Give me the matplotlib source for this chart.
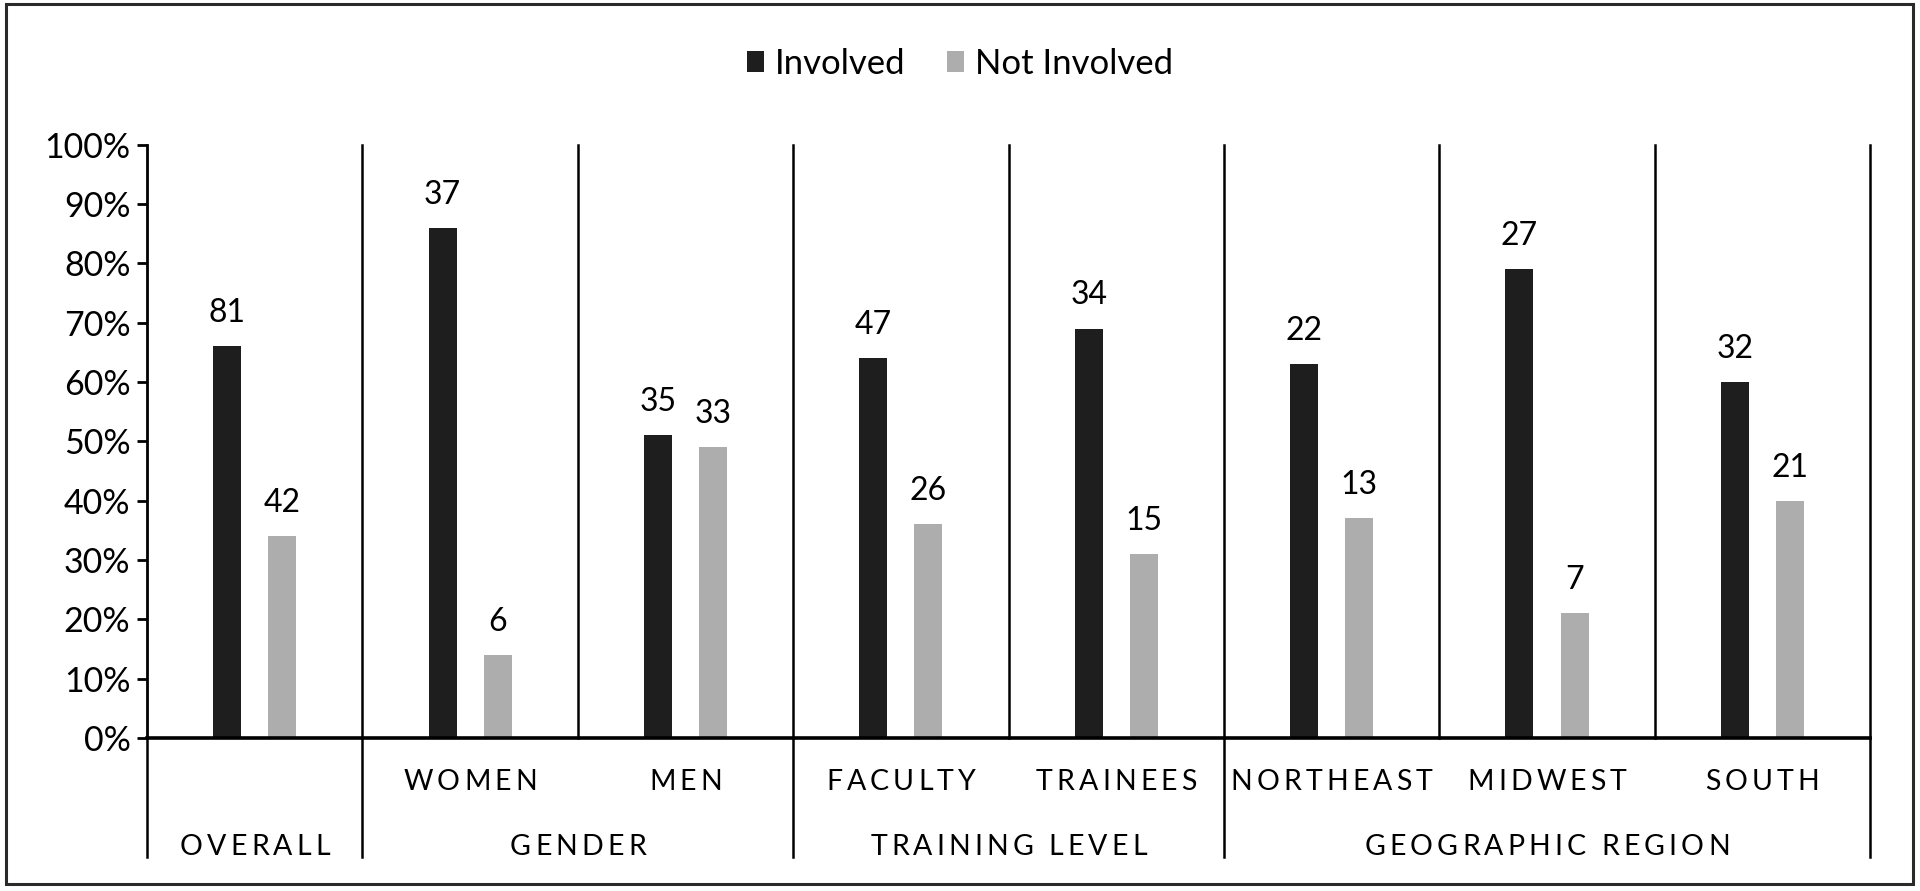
import matplotlib
matplotlib.use('Agg')
import matplotlib.pyplot as plt
from matplotlib.patches import Rectangle, Patch
from matplotlib.transforms import blended_transform_factory
from matplotlib.font_manager import FontProperties
import numpy as np

# ---------------- data ----------------
categories = ['OVERALL', 'WOMEN', 'MEN', 'FACULTY', 'TRAINEES',
              'NORTHEAST', 'MIDWEST', 'SOUTH']
groups = ['OVERALL', 'GENDER', 'TRAINING LEVEL', 'GEOGRAPHIC REGION']
group_sizes = [1, 2, 2, 3]
series_names = ['Involved', 'Not Involved']
involved_pct = [66, 86, 51, 64, 69, 63, 79, 60]
not_involved_pct = [34, 14, 49, 36, 31, 37, 21, 40]
involved_n = [81, 37, 35, 47, 34, 22, 27, 32]
not_involved_n = [42, 6, 33, 26, 15, 13, 7, 21]
y_ticks = [0, 10, 20, 30, 40, 50, 60, 70, 80, 90, 100]
y_tick_labels = [f'{v}%' for v in y_ticks]

# ---------------- style ----------------
FONT = ['Lato', 'DejaVu Sans']
plt.rcParams['font.family'] = FONT
C_INV = '#1e1e1e'
C_NOT = '#adadad'
FS_TICK = 24.5
FS_LABEL = 23
FS_LEGEND = 25
FS_CAT = 20.5

fig = plt.figure(figsize=(19.2, 8.91), dpi=100)
fig.patch.set_facecolor('white')
fig.patches.append(Rectangle((0.003, 0.0079), 0.9933, 0.9876, transform=fig.transFigure,
                             fill=False, edgecolor='#2a2a2a', linewidth=2.2))

ax = fig.add_axes([0.0766, 0.1717, 0.974 - 0.0766, 0.8378 - 0.1717])
n = len(categories)
x = np.arange(n)
w = 0.13
off = 0.128
b1 = ax.bar(x - off, involved_pct, w, color=C_INV, label=series_names[0])
b2 = ax.bar(x + off, not_involved_pct, w, color=C_NOT, label=series_names[1])
ax.bar_label(b1, labels=[str(v) for v in involved_n], padding=13, fontsize=FS_LABEL)
ax.bar_label(b2, labels=[str(v) for v in not_involved_n], padding=13, fontsize=FS_LABEL)

ax.set_xlim(-0.5, n - 0.5)
ax.set_ylim(0, 100)
ax.set_yticks(y_ticks)
ax.set_yticklabels(y_tick_labels, fontsize=FS_TICK)
ax.tick_params(axis='y', length=7, width=2, pad=5, colors='black')
ax.set_xticks([])
for s in ['top', 'right']:
    ax.spines[s].set_visible(False)
ax.spines['left'].set_linewidth(2)
ax.spines['bottom'].set_linewidth(2.6)
ax.patch.set_alpha(0)

trans = blended_transform_factory(ax.transData, ax.transAxes)
LOW = -0.20
# separators within the plot area
for i in range(n):
    ax.plot([i + 0.5, i + 0.5], [0, 1], transform=trans, color='black', lw=1.8,
            clip_on=False, zorder=1)
# group separators extending below the axis
bounds = [-0.5]
acc = -0.5
for g in group_sizes:
    acc += g
    bounds.append(acc)
for b in bounds:
    ax.plot([b, b], [LOW, 0], transform=trans, color='black', lw=1.8,
            clip_on=False, zorder=1)

# tracked (letter-spaced) text
fig.canvas.draw()
renderer = fig.canvas.get_renderer()
px_per_unit = ax.transData.transform((1, 0))[0] - ax.transData.transform((0, 0))[0]


def tracked(xc, ya, s, fs, track_em):
    fp = FontProperties(family=FONT, size=fs)
    em = fs * fig.dpi / 72.0
    widths = []
    for ch in s:
        if ch == ' ':
            widths.append(0.25 * em)
        else:
            widths.append(renderer.get_text_width_height_descent(ch, fp, ismath=False)[0])
    gap = track_em * em
    total = sum(widths) + gap * (len(s) - 1)
    pos = xc - total / 2 / px_per_unit
    for ch, wd in zip(s, widths):
        if ch != ' ':
            ax.text(pos + wd / 2 / px_per_unit, ya, ch, transform=trans, ha='center',
                    va='center', fontsize=fs, color='black', clip_on=False)
        pos += (wd + gap) / px_per_unit


for i, c in enumerate(categories):
    if c == 'OVERALL':
        continue
    tracked(i, -0.074, c, FS_CAT, 0.145)

start = 0
for g, sz in zip(groups, group_sizes):
    center = start + (sz - 1) / 2
    tracked(center, -0.183, g, FS_CAT, 0.145)
    start += sz

# legend
handles = [Patch(facecolor=C_INV, edgecolor='none'), Patch(facecolor=C_NOT, edgecolor='none')]
fig.legend(handles, series_names, loc='center', bbox_to_anchor=(0.5, 0.928), ncol=2,
           frameon=False, fontsize=FS_LEGEND, handlelength=0.5, handleheight=0.55,
           handletextpad=0.3, columnspacing=1.2)

fig.savefig('out.png', dpi=100, facecolor='white')
